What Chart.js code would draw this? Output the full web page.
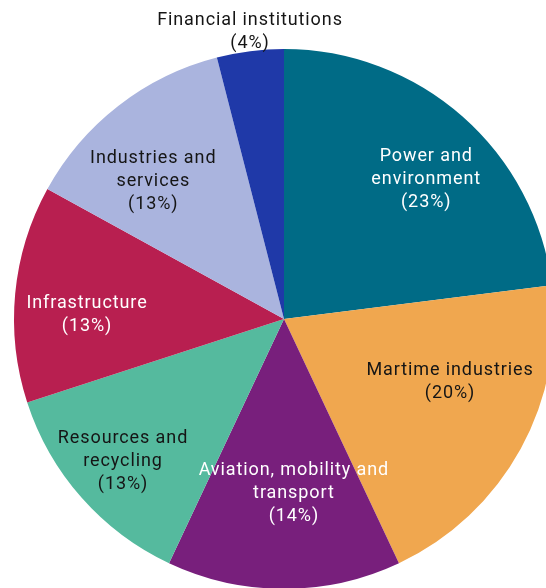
<!DOCTYPE html>
<html>
<head>
<meta charset="utf-8">
<script src="https://cdn.jsdelivr.net/npm/chart.js@4"></script>
<style>
  html, body { margin: 0; padding: 0; background: #fff; overflow: hidden; }
  #wrap { width: 546px; height: 588px; overflow: hidden; position: relative; }
  canvas { position: absolute; left: 0; top: 0; }
</style>
</head>
<body>
<div id="wrap"><canvas id="pie" width="600" height="620"></canvas></div>
<script>
const categories = ['Power and environment', 'Martime industries', 'Aviation, mobility and transport',
  'Resources and recycling', 'Infrastructure', 'Industries and services', 'Financial institutions'];
const shares = [23, 20, 14, 13, 13, 13, 4];
// how each name is broken on the chart
const labelLines = [
  ['Power and', 'environment'],
  ['Martime industries'],
  ['Aviation, mobility and', 'transport'],
  ['Resources and', 'recycling'],
  ['Infrastructure'],
  ['Industries and', 'services'],
  ['Financial institutions'],
];
const colors = ['#006b86', '#f0a74f', '#781f7c', '#55ba9e', '#b81f50', '#aab4de', '#1f39a8'];
const textColors = ['#fff', '#151515', '#fff', '#151515', '#fff', '#151515', '#151515'];
// label placement: angle tweak (deg) and distance as part of the radius
const angleShift = [3.6, -8.9, -3.3, 0.4, -3.4, -5.2, 0.5];
const radiusPart = [0.745, 0.654, 0.637, 0.79, 0.73, 0.71, 1.08];

const sliceLabels = {
  id: 'sliceLabels',
  afterDatasetsDraw(chart) {
    const ctx = chart.ctx;
    const arcs = chart.getDatasetMeta(0).data;
    ctx.save();
    ctx.font = '18px Roboto';
    ctx.letterSpacing = '0.9px';
    ctx.textAlign = 'center';
    ctx.textBaseline = 'middle';
    arcs.forEach((arc, i) => {
      const a = (arc.startAngle + arc.endAngle) / 2 + angleShift[i] * Math.PI / 180;
      const r = arc.outerRadius * radiusPart[i];
      const x = arc.x + Math.cos(a) * r;
      const y = arc.y + Math.sin(a) * r + 3;
      const lines = labelLines[i].concat(['(' + shares[i] + '%)']);
      const lh = 23;
      ctx.fillStyle = textColors[i];
      lines.forEach((t, k) => {
        ctx.fillText(t, x, y + (k - (lines.length - 1) / 2) * lh);
      });
    });
    ctx.restore();
  }
};

new Chart(document.getElementById('pie').getContext('2d'), {
  type: 'pie',
  data: {
    labels: categories,
    datasets: [{
      data: shares,
      backgroundColor: colors,
      borderWidth: 0,
    }],
  },
  options: {
    responsive: false,
    animation: false,
    layout: { padding: { left: 14, top: 49, right: 46, bottom: 31 } },
    plugins: { legend: { display: false }, tooltip: { enabled: false } },
  },
  plugins: [sliceLabels],
});
</script>
</body>
</html>
